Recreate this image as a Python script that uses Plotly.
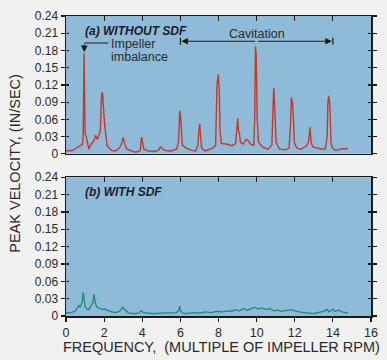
import plotly.graph_objects as go

# ---------------- data ----------------
freq_without = [0.0, 0.1, 0.2, 0.3, 0.4, 0.5, 0.6, 0.7, 0.8, 0.86, 0.9, 0.93, 0.95, 0.97, 1.0,
                1.05, 1.1, 1.15, 1.2, 1.3, 1.4, 1.5, 1.55, 1.6, 1.65, 1.7, 1.8, 1.85, 1.88, 1.92,
                1.96, 2.0, 2.03, 2.08, 2.15, 2.25, 2.4, 2.6, 2.8, 2.9, 2.95, 3.0, 3.05, 3.1, 3.2,
                3.4, 3.6, 3.8, 3.9, 3.93, 3.97, 4.02, 4.08, 4.3, 4.6, 4.85, 4.95, 5.05, 5.2, 5.5,
                5.8, 5.9, 5.93, 5.97, 6.02, 6.05, 6.1, 6.3, 6.6, 6.8, 6.92, 6.98, 7.02, 7.06, 7.12,
                7.3, 7.5, 7.7, 7.85, 7.88, 7.92, 7.99, 8.04, 8.08, 8.15, 8.4, 8.7, 8.9, 8.96, 9.01,
                9.05, 9.1, 9.15, 9.3, 9.45, 9.55, 9.7, 9.85, 9.9, 9.94, 9.98, 10.03, 10.1, 10.3,
                10.6, 10.8, 10.86, 10.9, 10.95, 11.02, 11.2, 11.5, 11.7, 11.78, 11.82, 11.88, 11.93,
                11.98, 12.1, 12.3, 12.6, 12.72, 12.8, 12.86, 12.95, 13.2, 13.45, 13.6, 13.7, 13.74,
                13.78, 13.84, 13.9, 13.95, 14.1, 14.3, 14.5, 14.65, 14.78]
vel_without = [0.006, 0.005, 0.006, 0.005, 0.007, 0.009, 0.011, 0.013, 0.014, 0.016, 0.03, 0.12, 0.175, 0.12, 0.035,
               0.031, 0.022, 0.01, 0.008, 0.015, 0.02, 0.025, 0.032, 0.028, 0.025, 0.03, 0.04, 0.09, 0.107, 0.104,
               0.09, 0.063, 0.05, 0.03, 0.015, 0.01, 0.006, 0.005, 0.01, 0.016, 0.024, 0.028, 0.022, 0.015, 0.008,
               0.005, 0.003, 0.004, 0.006, 0.02, 0.029, 0.02, 0.008, 0.005, 0.004, 0.006, 0.012, 0.009, 0.006, 0.005,
               0.008, 0.02, 0.055, 0.075, 0.062, 0.04, 0.015, 0.01, 0.006, 0.005, 0.015, 0.045, 0.052, 0.03, 0.01,
               0.005, 0.008, 0.01, 0.015, 0.11, 0.12, 0.138, 0.11, 0.04, 0.018, 0.017, 0.014, 0.018, 0.04, 0.062,
               0.04, 0.035, 0.02, 0.017, 0.025, 0.023, 0.016, 0.015, 0.06, 0.187, 0.17, 0.06, 0.02, 0.012,
               0.008, 0.015, 0.08, 0.115, 0.08, 0.02, 0.008, 0.007, 0.01, 0.05, 0.098, 0.09, 0.06,
               0.02, 0.01, 0.008, 0.013, 0.02, 0.046, 0.02, 0.012, 0.01, 0.008, 0.009, 0.03, 0.09,
               0.101, 0.085, 0.02, 0.012, 0.006, 0.007, 0.009, 0.008, 0.01]

freq_with = [0.0, 0.1, 0.2, 0.3, 0.4, 0.5, 0.6, 0.67, 0.75, 0.8, 0.85, 0.9, 0.94, 1.0, 1.1, 1.2, 1.3,
             1.4, 1.47, 1.52, 1.6, 1.7, 1.8, 1.9, 2.0, 2.2, 2.4, 2.6, 2.8, 2.9, 2.97, 3.05, 3.15,
             3.3, 3.6, 3.8, 3.95, 4.05, 4.3, 4.6, 5.0, 5.4, 5.8, 5.92, 5.96, 6.02, 6.2, 6.5, 6.8,
             7.0, 7.3, 7.6, 7.9, 8.2, 8.5, 8.7, 8.9, 9.1, 9.3, 9.5, 9.7, 9.9, 10.1, 10.3, 10.5,
             10.7, 10.9, 11.1, 11.3, 11.6, 11.8, 12.0, 12.2, 12.5, 12.8, 13.0, 13.2, 13.5, 13.7,
             13.8, 14.0, 14.1, 14.3, 14.5, 14.78]
vel_with = [0.005, 0.006, 0.005, 0.006, 0.007, 0.009, 0.014, 0.018, 0.015, 0.02, 0.025, 0.041, 0.025, 0.016, 0.012, 0.011, 0.017,
            0.022, 0.038, 0.025, 0.016, 0.014, 0.013, 0.011, 0.012, 0.009, 0.007, 0.006, 0.008, 0.011, 0.016, 0.012, 0.009,
            0.005, 0.004, 0.005, 0.009, 0.006, 0.005, 0.004, 0.005, 0.005, 0.006, 0.01, 0.017, 0.008, 0.004, 0.005, 0.006,
            0.005, 0.007, 0.006, 0.008, 0.007, 0.009, 0.008, 0.011, 0.009, 0.013, 0.01, 0.012, 0.015, 0.012, 0.014, 0.011,
            0.013, 0.009, 0.01, 0.008, 0.01, 0.011, 0.009, 0.007, 0.006, 0.005, 0.004, 0.006, 0.008, 0.011,
            0.007, 0.012, 0.008, 0.01, 0.007, 0.005]

y_tickvals = [0, 0.03, 0.06, 0.09, 0.12, 0.15, 0.18, 0.21, 0.24]
y_ticktext = ["0", "0.03", "0.06", "0.09", "0.12", "0.15", "0.18", "0.21", "0.24"]
x_tickvals = [0, 2, 4, 6, 8, 10, 12, 14, 16]
x_ticktext = ["0", "2", "4", "6", "8", "10", "12", "14", "16"]
x_top_ticks = [2, 4, 6, 8, 10, 12, 14]

# ---------------- style ----------------
FONT = "Liberation Sans, Arial, sans-serif"
TXT = "#2a2a2a"
AX = "#1a1a1a"
RED = "#c03b2e"
GREEN = "#1f8a6c"
PLOT_BG = "#8fbbd9"

fig = go.Figure()
fig.add_trace(go.Scatter(x=freq_without, y=vel_without, mode="lines",
                         line=dict(color=RED, width=1.4), xaxis="x", yaxis="y", showlegend=False))
fig.add_trace(go.Scatter(x=freq_with, y=vel_with, mode="lines",
                         line=dict(color=GREEN, width=1.3), xaxis="x2", yaxis="y2", showlegend=False))
# dummy traces so the overlay tick axes are drawn
fig.add_trace(go.Scatter(x=[None], y=[None], xaxis="x3", yaxis="y3", showlegend=False, hoverinfo="skip"))
fig.add_trace(go.Scatter(x=[None], y=[None], xaxis="x4", yaxis="y4", showlegend=False, hoverinfo="skip"))

top_dom = [0.5407, 1.0]
bot_dom = [0.0, 0.4625]

base_y = dict(range=[0, 0.24], tickvals=y_tickvals, ticktext=y_ticktext, ticks="outside",
              ticklen=4, tickcolor=AX, tickwidth=1.2, showline=True, linecolor=AX, linewidth=1.5,
              mirror="ticks", showgrid=False, zeroline=False,
              tickfont=dict(family=FONT, size=12, color=TXT), fixedrange=True)
over_y = dict(range=[0, 0.24], tickvals=y_tickvals, ticks="inside", ticklen=3, tickcolor=AX,
              tickwidth=1.2, mirror="ticks", showline=False, showgrid=False, zeroline=False,
              showticklabels=False, side="left")
over_x = dict(range=[0, 16], tickvals=x_top_ticks, ticks="inside", ticklen=5, tickcolor=AX,
              tickwidth=1.2, showline=False, showgrid=False, zeroline=False,
              showticklabels=False, side="top")

fig.update_layout(
    width=387, height=360,
    margin=dict(l=66, r=12, t=9, b=44),
    paper_bgcolor="#f1f1f0",
    plot_bgcolor=PLOT_BG,
    xaxis=dict(domain=[0, 1], anchor="y", range=[0, 16], showticklabels=False, ticks="",
               showline=True, linecolor=AX, linewidth=1.5, mirror=True, showgrid=False, zeroline=False),
    yaxis=dict(domain=top_dom, anchor="x", **base_y),
    xaxis2=dict(domain=[0, 1], anchor="y2", range=[0, 16], tickvals=x_tickvals, ticktext=x_ticktext,
                ticks="outside", ticklen=4, tickcolor=AX, tickwidth=1.2,
                showline=True, linecolor=AX, linewidth=1.5, mirror=True, showgrid=False, zeroline=False,
                tickfont=dict(family=FONT, size=12.5, color=TXT)),
    yaxis2=dict(domain=bot_dom, anchor="x2", **base_y),
    xaxis3=dict(overlaying="x", anchor="y", **over_x),
    yaxis3=dict(overlaying="y", anchor="x", **over_y),
    xaxis4=dict(overlaying="x2", anchor="y2", **over_x),
    yaxis4=dict(overlaying="y2", anchor="x2", **over_y),
    showlegend=False,
)

ann = []
ann.append(dict(text="<b><i>(a) WITHOUT SDF</i></b>", x=0.88, y=0.214, xref="x", yref="y",
                xanchor="left", yanchor="middle", showarrow=False,
                font=dict(family=FONT, size=12, color="#1c1c2a")))
ann.append(dict(text="<b><i>(b) WITH SDF</i></b>", x=0.88, y=0.214, xref="x2", yref="y2",
                xanchor="left", yanchor="middle", showarrow=False,
                font=dict(family=FONT, size=12, color="#1c1c2a")))
ann.append(dict(text="Impeller", x=2.27, y=0.191, xref="x", yref="y",
                xanchor="left", yanchor="middle", align="left", showarrow=False,
                font=dict(family=FONT, size=12.5, color=TXT)))
ann.append(dict(text="imbalance", x=2.27, y=0.169, xref="x", yref="y",
                xanchor="left", yanchor="middle", align="left", showarrow=False,
                font=dict(family=FONT, size=12.5, color=TXT)))
ann.append(dict(text="Cavitation", x=10.0, y=0.209, xref="x", yref="y",
                xanchor="center", yanchor="middle", showarrow=False,
                font=dict(family=FONT, size=12.5, color=TXT)))
# Impeller imbalance down arrow
ann.append(dict(text="", x=0.96, y=0.177, ax=0.96, ay=0.193, xref="x", yref="y",
                axref="x", ayref="y", showarrow=True, arrowhead=2, arrowsize=1.1,
                arrowwidth=1.2, arrowcolor=AX))
# Cavitation double arrow
ann.append(dict(text="", x=6.05, y=0.196, ax=10.0, ay=0.196, xref="x", yref="y",
                axref="x", ayref="y", showarrow=True, arrowhead=2, arrowsize=1.1,
                arrowwidth=1.2, arrowcolor=AX))
ann.append(dict(text="", x=13.95, y=0.196, ax=10.0, ay=0.196, xref="x", yref="y",
                axref="x", ayref="y", showarrow=True, arrowhead=2, arrowsize=1.1,
                arrowwidth=1.2, arrowcolor=AX))
# axis titles
ann.append(dict(text="PEAK VELOCITY, (IN/SEC)", x=-0.168, y=0.51, xref="paper", yref="paper",
                textangle=-90, showarrow=False, xanchor="center", yanchor="middle",
                font=dict(family=FONT, size=14.5, color=TXT)))
ann.append(dict(text="FREQUENCY,\u00a0 (MULTIPLE OF IMPELLER RPM)", x=0.51, y=-0.104, xref="paper",
                yref="paper", showarrow=False, xanchor="center", yanchor="middle",
                font=dict(family=FONT, size=14.5, color=TXT)))
fig.update_layout(annotations=ann)

shapes = [
    dict(type="line", xref="x", yref="y", x0=0.96, x1=2.22, y0=0.193, y1=0.193,
         line=dict(color=AX, width=1.2)),
    dict(type="line", xref="x", yref="y", x0=6.0, x1=6.0, y0=0.19, y1=0.202,
         line=dict(color=AX, width=1.2)),
    dict(type="line", xref="x", yref="y", x0=14.0, x1=14.0, y0=0.19, y1=0.202,
         line=dict(color=AX, width=1.2)),
]
fig.update_layout(shapes=shapes)

fig.write_html("out.html", config={"displayModeBar": False, "staticPlot": True},
               post_script="document.body.style.margin='0px';document.body.style.background='#f1f1f0';")
